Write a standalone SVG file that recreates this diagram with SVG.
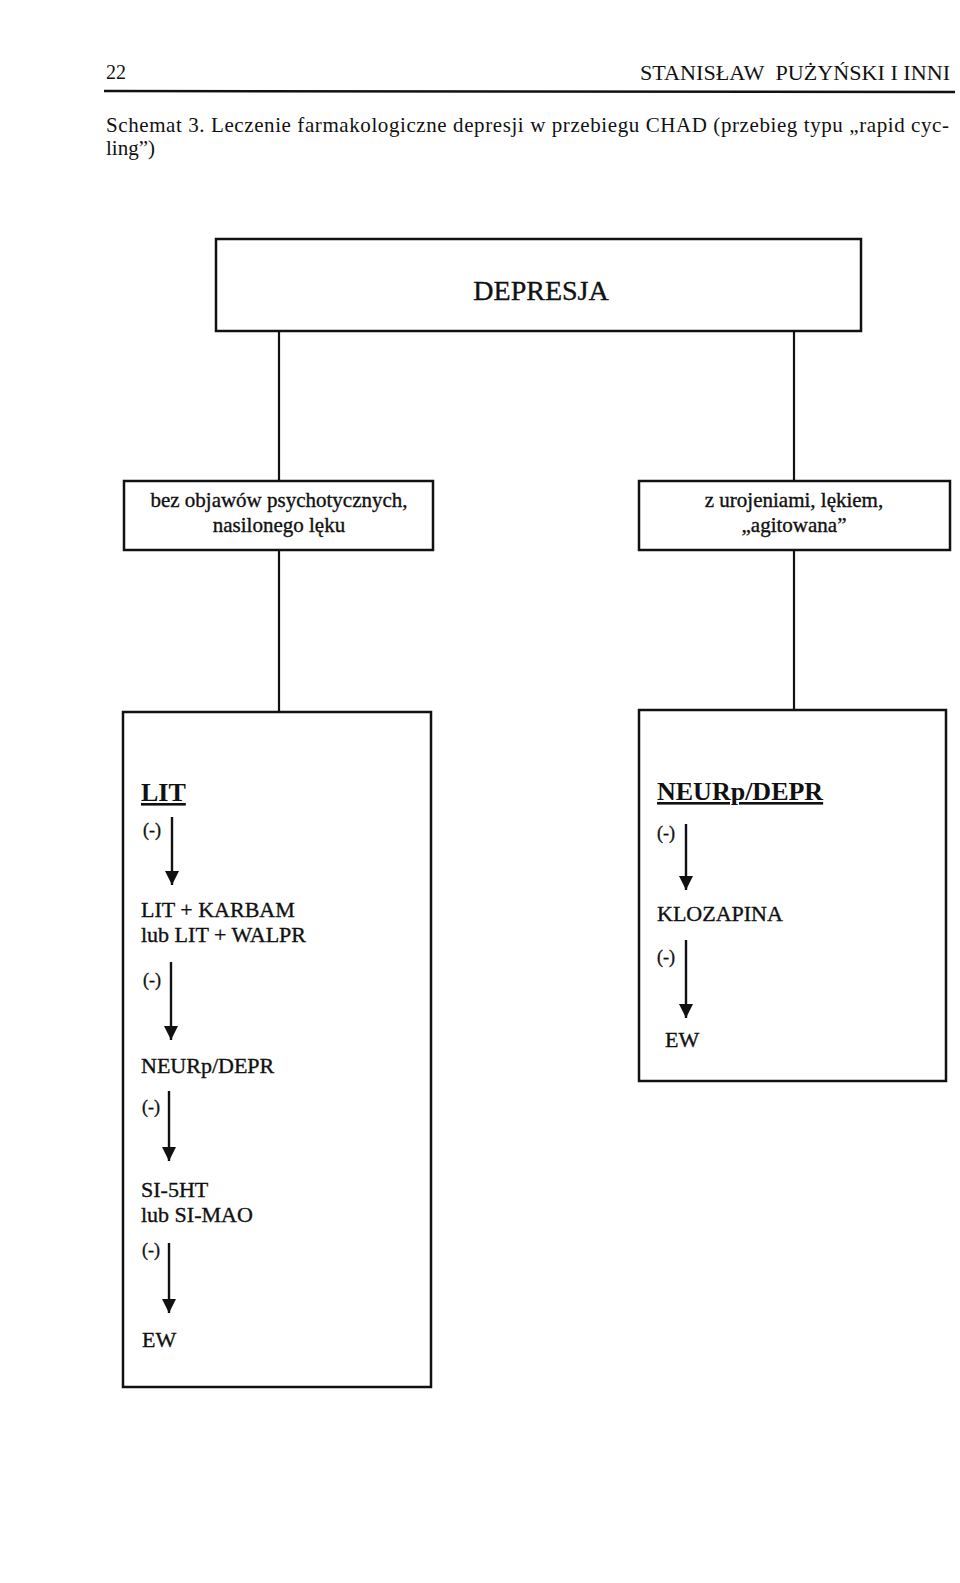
<svg xmlns="http://www.w3.org/2000/svg" width="960" height="1583" viewBox="0 0 960 1583">
<style>
  .t { font-family: "Liberation Serif", "Times New Roman", serif; fill: #111; }
  .ink { stroke: #111; stroke-width: 0.35; }
  .box { fill: #fff; stroke: #111; stroke-width: 2.5; }
  .conn { stroke: #111; stroke-width: 2.2; fill: none; }
  .arr { stroke: #111; stroke-width: 2.4; fill: none; marker-end: url(#ah); }
  .hd { font-size: 20px; }
  .cap { font-size: 21px; }
  .big { font-size: 28px; }
  .mid { font-size: 21px; }
  .drug { font-size: 22px; }
  .bold { font-size: 26px; font-weight: bold; text-decoration: underline; }
  .neg { font-size: 18px; }
</style>
<defs>
  <marker id="ah" markerUnits="userSpaceOnUse" markerWidth="14" markerHeight="14" refX="14" refY="7" orient="auto">
    <path d="M0,0 L14,7 L0,14 z" fill="#111"/>
  </marker>
</defs>
<rect width="960" height="1583" fill="#fff"/>

<g id="header">
  <text class="t hd" x="106" y="79">22</text>
  <text class="t hd" x="950" y="80" text-anchor="end" textLength="310" lengthAdjust="spacingAndGlyphs">STANISŁAW&#160; PUŻYŃSKI I INNI</text>
  <line x1="104" y1="91" x2="955" y2="92" stroke="#111" stroke-width="2.6"/>
  <text class="t cap" x="106" y="132" textLength="843" lengthAdjust="spacing">Schemat 3. Leczenie farmakologiczne depresji w przebiegu CHAD (przebieg typu „rapid cyc-</text>
  <text class="t cap" x="106" y="155">ling”)</text>
</g>

<g id="connectors">
  <line class="conn" x1="279" y1="331" x2="279" y2="481"/>
  <line class="conn" x1="794" y1="331" x2="794" y2="481"/>
  <line class="conn" x1="279" y1="550" x2="279" y2="712"/>
  <line class="conn" x1="794" y1="550" x2="794" y2="710"/>
</g>

<g id="depresja">
  <rect class="box" x="216" y="239" width="645" height="92"/>
  <text class="t ink big" x="541" y="300" text-anchor="middle">DEPRESJA</text>
</g>

<g id="bez-objawow">
  <rect class="box" x="124" y="481" width="309" height="69"/>
  <text class="t ink mid" x="279" y="507" text-anchor="middle">bez objawów psychotycznych,</text>
  <text class="t ink mid" x="279" y="532" text-anchor="middle">nasilonego lęku</text>
</g>

<g id="z-urojeniami">
  <rect class="box" x="639" y="481" width="311" height="69"/>
  <text class="t ink mid" x="794" y="507" text-anchor="middle">z urojeniami, lękiem,</text>
  <text class="t ink mid" x="794" y="532" text-anchor="middle">„agitowana”</text>
</g>

<g id="left-sequence">
  <rect class="box" x="123" y="712" width="308" height="675"/>
  <text class="t bold" x="141" y="801">LIT</text>
  <text class="t ink neg" x="143" y="836">(-)</text>
  <line class="arr" x1="172" y1="817" x2="172" y2="885"/>
  <text class="t ink drug" x="141" y="917">LIT + KARBAM</text>
  <text class="t ink drug" x="141" y="942">lub LIT + WALPR</text>
  <text class="t ink neg" x="143" y="986">(-)</text>
  <line class="arr" x1="171" y1="962" x2="171" y2="1040"/>
  <text class="t ink drug" x="141" y="1073">NEURp/DEPR</text>
  <text class="t ink neg" x="142" y="1113">(-)</text>
  <line class="arr" x1="169" y1="1091" x2="169" y2="1161"/>
  <text class="t ink drug" x="141" y="1197">SI-5HT</text>
  <text class="t ink drug" x="141" y="1222">lub SI-MAO</text>
  <text class="t ink neg" x="142" y="1256">(-)</text>
  <line class="arr" x1="169" y1="1243" x2="169" y2="1313"/>
  <text class="t ink drug" x="142" y="1347">EW</text>
</g>

<g id="right-sequence">
  <rect class="box" x="639" y="710" width="307" height="371"/>
  <text class="t bold" x="657" y="800">NEURp/DEPR</text>
  <text class="t ink neg" x="657" y="839">(-)</text>
  <line class="arr" x1="686" y1="824" x2="686" y2="890"/>
  <text class="t ink drug" x="657" y="921">KLOZAPINA</text>
  <text class="t ink neg" x="657" y="963">(-)</text>
  <line class="arr" x1="686" y1="940" x2="686" y2="1018"/>
  <text class="t ink drug" x="665" y="1047">EW</text>
</g>
</svg>
